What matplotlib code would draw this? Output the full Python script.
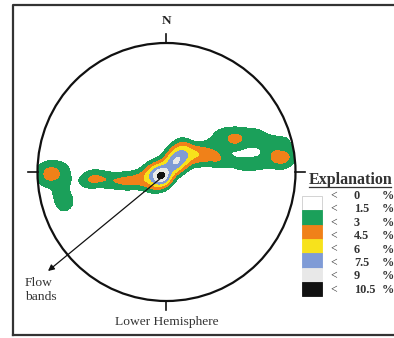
import numpy as np
import matplotlib
matplotlib.use("Agg")
import matplotlib.pyplot as plt
from matplotlib.patches import Circle, Rectangle

# pole concentrations on the equal-area net (net units, radius 1) and their weight (%)
pole_x = [
    # western cluster
    -0.96, -0.88, -0.79, -0.95, -0.875, -0.78, -0.83, -0.80, -0.76,
    # band west of the maximum
    -0.63, -0.554, -0.465, -0.38, -0.30, -0.221, -0.143,
    # maximum
    -0.035, 0.012, 0.066, 0.128, 0.198, 0.267, 0.128, -0.089, -0.050,
    0.06, -0.13,
    -0.125, -0.045, 0.035, 0.115, -0.075, 0.005, 0.085, 0.165,
    # band east of the maximum
    0.283, 0.384, 0.34, 0.46,
    0.40, 0.48, 0.56, 0.64, 0.72, 0.40, 0.48, 0.56, 0.64, 0.72, 0.531,
    0.80, 0.88, 0.96, 0.80, 0.86, 0.95, 0.80, 0.90,
    0.56, 0.64, 0.72,
]
pole_y = [
    0.02, 0.05, 0.03, -0.07, -0.035, -0.07, -0.17, -0.26, -0.22,
    -0.07, -0.047, -0.062, -0.07, -0.07, -0.062, -0.039,
    -0.031, 0.023, 0.070, 0.116, 0.147, 0.155, 0.209, 0.023, -0.101,
    0.16, -0.12,
    0.013, 0.063, 0.113, 0.163, -0.073, -0.023, 0.027, 0.077,
    0.093, 0.109, 0.21, 0.08,
    0.31, 0.31, 0.31, 0.31, 0.31, 0.23, 0.23, 0.23, 0.23, 0.23, 0.248,
    0.25, 0.25, 0.25, 0.17, 0.12, 0.12, 0.07, 0.05,
    0.06, 0.06, 0.06,
]
pole_w = [
    1.5, 1.2, 1.3, 1.4, 1.8, 1.2, 1.6, 1.5, 1.0,
    1.6, 2.3, 1.8, 1.8, 2.1, 2.0, 2.0,
    6.0, 0.7, 4.0, 2.0, 2.0, 1.8, 1.8, 1.2, 1.0,
    1.2, 1.0,
    1.0, 1.0, 1.0, 1.0, 1.0, 1.0, 1.0, 1.0,
    1.5, 2.3, 1.0, 1.2,
    0.85, 0.85, 0.85, 0.85, 0.85, 0.85, 0.85, 0.85, 0.85, 0.85, 1.2,
    0.9, 0.9, 0.9, 0.9, 2.0, 2.1, 0.9, 0.9,
    1.3, 1.3, 1.2,
]

levels = [1.5, 3, 4.5, 6, 7.5, 9, 100]
level_colors = ['#1ba05a', '#f08119', '#f7e21c', '#7f9bd6', '#e8e8e8', '#111111']
legend_labels = ['0', '1.5', '3', '4.5', '6', '7.5', '9', '10.5']

W, H = 394, 338
fig = plt.figure(figsize=(W / 100, H / 100), dpi=100)
fig.patch.set_facecolor('white')

# stereonet: centre (166.5, 172) px, radius 129 px
R = 129.0
cx, cy = 166.5, 172.0
half = 1.1 * R
ax = fig.add_axes([(cx - half) / W, (H - cy - half) / H, 2 * half / W, 2 * half / H])
ax.set_xlim(-1.1, 1.1)
ax.set_ylim(-1.1, 1.1)
ax.set_aspect('equal')
ax.axis('off')

# gaussian smoothing of the poles
g = np.linspace(-1, 1, 500)
X, Y = np.meshgrid(g, g)
sigma = 0.055
dens = np.zeros_like(X)
for px, py, pw in zip(pole_x, pole_y, pole_w):
    dens += pw * np.exp(-((X - px) ** 2 + (Y - py) ** 2) / (2 * sigma ** 2))
dens = np.ma.masked_where(X ** 2 + Y ** 2 > 1.0, dens)

ax.contourf(X, Y, dens, levels=levels, colors=level_colors)

ax.add_patch(Circle((0, 0), 1.0, fill=False, lw=1.6, ec='#111111'))
tl = 0.07
for (x0, y0, x1, y1) in [(0, 1, 0, 1 + tl), (0, -1, 0, -1 - tl),
                         (-1, 0, -1 - tl, 0), (1, 0, 1 + tl, 0)]:
    ax.plot([x0, x1], [y0, y1], color='#111111', lw=1.2)

# overlay in pixel coordinates for frame, text and legend
ov = fig.add_axes([0, 0, 1, 1])
ov.set_xlim(0, W)
ov.set_ylim(H, 0)
ov.axis('off')
ov.patch.set_alpha(0)

ov.plot([13, 13, W + 5], [335, 5, 5], color='#333333', lw=1.6)
ov.plot([13, W + 5], [335, 335], color='#333333', lw=1.6)

serif = ['Liberation Serif', 'DejaVu Serif']
ov.text(166.5, 21, 'N', ha='center', va='center', fontsize=9.5, fontweight='bold',
        family=serif, color='#222222')
ov.text(166.5, 322, 'Lower Hemisphere', ha='center', va='center', fontsize=9.7,
        family=serif, color='#333333')
ov.text(25, 290, 'Flow\nbands', ha='left', va='center', fontsize=9.7,
        family=serif, color='#333333', linespacing=1.15)
ov.annotate('', xy=(48, 271), xytext=(161, 178),
            arrowprops=dict(arrowstyle='-|>', color='#111111', lw=0.9,
                            mutation_scale=9, shrinkA=0, shrinkB=0))

# legend
ov.text(309, 180, 'Explanation', ha='left', va='center', fontsize=11.5,
        fontweight='bold', family=serif, color='#333333')
ov.plot([309, 391], [186.5, 186.5], color='#333333', lw=0.9)
box_colors = ['white'] + level_colors
for i, c in enumerate(box_colors):
    ov.add_patch(Rectangle((302, 196 + i * 14.3), 20, 14.3, facecolor=c,
                           edgecolor='#cccccc' if c == 'white' else c, lw=0.6))
for i, lab in enumerate(legend_labels):
    y = 196 + i * 13.4
    ov.text(330, y, '<', ha='left', va='center', fontsize=8.5, family=serif, color='#333333')
    ov.text(354, y, lab, ha='left', va='center', fontsize=8.8, fontweight='bold',
            family=serif, color='#333333')
    ov.text(382, y, '%', ha='left', va='center', fontsize=8.8, fontweight='bold',
            family=serif, color='#333333')

fig.savefig('out.png', dpi=100)
